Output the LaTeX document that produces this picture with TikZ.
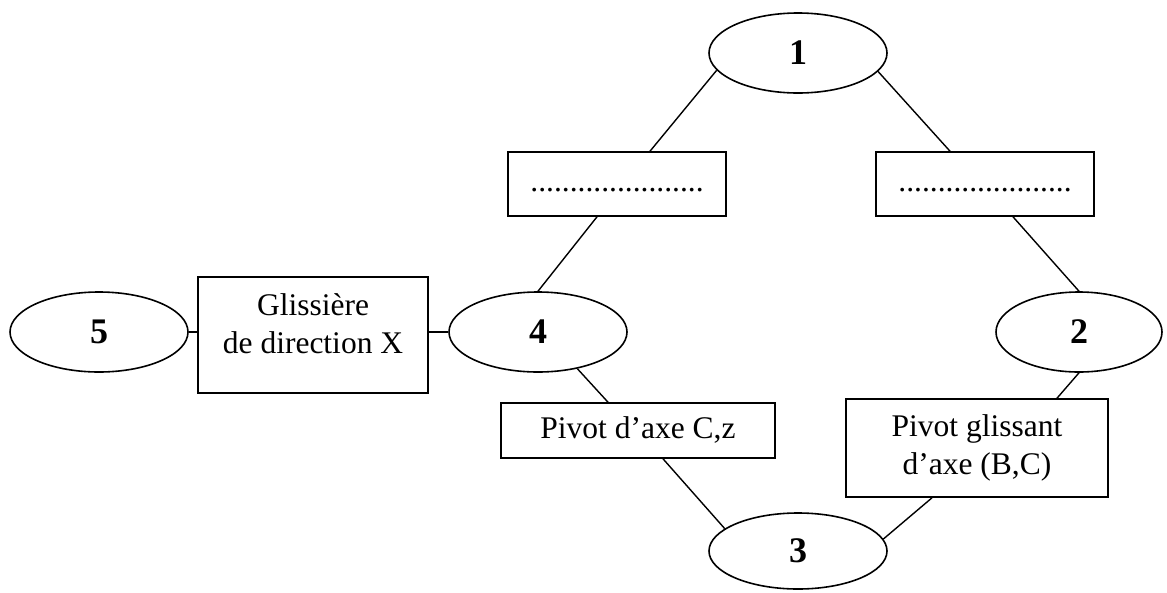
\documentclass[tikz,border=0pt]{standalone}
\usepackage{fontspec}
\setmainfont{Liberation Serif}
\usetikzlibrary{shapes.geometric}
\begin{document}
\begin{tikzpicture}[x=1pt,y=-1pt,
  part/.style={ellipse,draw,line width=1.6pt,minimum width=178pt,minimum height=80pt,inner sep=0pt,font=\fontsize{36}{40}\selectfont\bfseries},
  liaison/.style={rectangle,draw,line width=1.6pt,inner sep=0pt,align=center,font=\fontsize{31.5}{37.5}\selectfont},
  link/.style={line width=1.4pt}]
\useasboundingbox (0,0) rectangle (1167,592);
% parts
\node[part] (e1) at (798,53) {1};
\node[part] (e5) at (99,332) {5};
\node[part] (e4) at (538,332) {4};
\node[part,minimum width=166pt] (e2) at (1079,332) {2};
\node[part,minimum height=76pt] (e3) at (798,551) {3};
% liaisons
\node[liaison,minimum width=218pt,minimum height=64pt] (bl) at (617,184) {\strut......................};
\node[liaison,minimum width=218pt,minimum height=64pt] (br) at (985,184) {\strut......................};
\node[liaison,minimum width=230pt,minimum height=116pt] (gl) at (313,335)
  {\raisebox{8pt}[\height][\depth]{\begin{tabular}{@{}c@{}}Glissière\\de direction X\end{tabular}}};
\node[liaison,minimum width=274pt,minimum height=55pt] (pc) at (638,430.5) {\strut Pivot d’axe C,z};
\node[liaison,minimum width=262pt,minimum height=98pt] (pg) at (977,448) {Pivot glissant\\d’axe (B,C)};
% connectors
\draw[link] (e1.192) -- ([xshift=33pt]bl.north);
\draw[link] ([xshift=-20pt]bl.south) -- (e4.north);
\draw[link] (e1.347) -- ([xshift=-35pt]br.north);
\draw[link] ([xshift=28pt]br.south) -- (e2.north);
\draw[link] (e5.east) -- (gl.west |- e5.east);
\draw[link] (gl.east |- e4.west) -- (e4.west);
\draw[link] (e4.317) -- ([xshift=-30pt]pc.north);
\draw[link] ([xshift=25pt]pc.south) -- (e3.163);
\draw[link] (e2.south) -- ([xshift=80pt]pg.north);
\draw[link] ([xshift=-45pt]pg.south) -- (e3.8);
\end{tikzpicture}
\end{document}
